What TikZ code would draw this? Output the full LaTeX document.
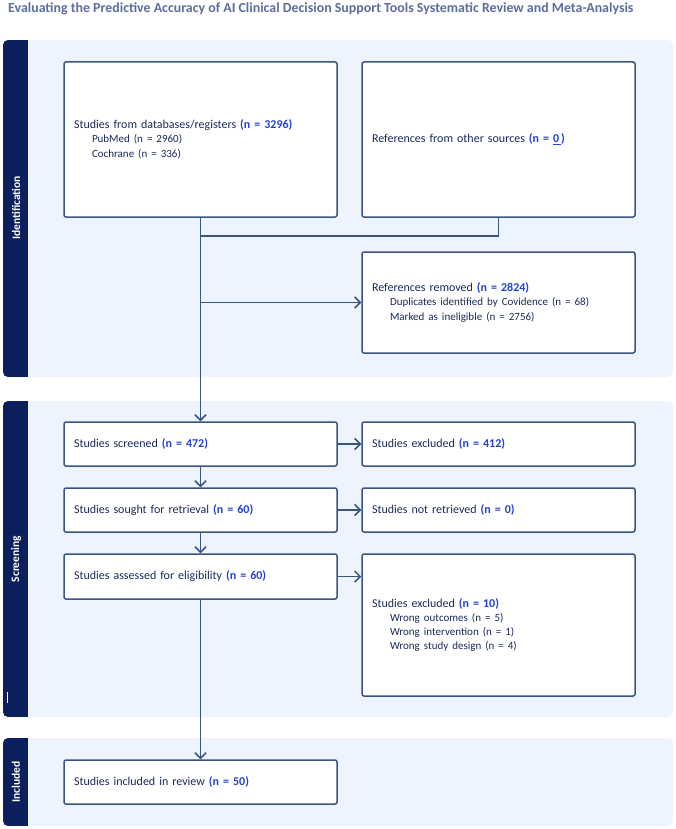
\documentclass[tikz,border=0pt]{standalone}
\usepackage{fontspec}
\setmainfont{Carlito}
\usetikzlibrary{arrows.meta,calc}
\definecolor{panelbg}{HTML}{EEF4FD}
\definecolor{barcol}{HTML}{0B1F5C}
\definecolor{boxline}{HTML}{3A5582}
\definecolor{txt}{HTML}{1C2A5A}
\definecolor{cnt}{HTML}{2342D0}
\definecolor{titlecol}{HTML}{5B6E9E}
\newcommand{\cn}[1]{\textcolor{cnt}{\textbf{#1}}}
\newcommand{\subl}{\\\hspace*{18pt}\fontsize{11}{14}\selectfont}
\tikzset{
  flowbox/.style={draw=boxline, line width=1.5pt, fill=white, rounded corners=2pt,
    minimum width=273pt, text width=253pt, inner xsep=10pt, align=left,
    text=txt, font=\fontsize{12}{14.5}\selectfont},
  flowarrow/.style={draw=boxline, line width=1.5pt, -{Straight Barb[length=5.5pt,width=11pt,line width=1.5pt]}},
  flowline/.style={draw=boxline, line width=1.5pt},
  bandlabel/.style={text=white, font=\bfseries\fontsize{11.5}{13}\selectfont, rotate=90}
}
\begin{document}
\begin{tikzpicture}[x=1pt,y=-1pt]
\useasboundingbox (0,0) rectangle (676,829);
\fill[white] (0,0) rectangle (676,829);
% title
\node[anchor=west, inner sep=0pt, text=titlecol, font=\bfseries\fontsize{13.9}{16}\selectfont] (title) at (8,9) {Evaluating the Predictive Accuracy of AI Clinical Decision Support Tools Systematic Review and Meta-Analysis};
% bands
\foreach \ya/\yb in {40/377, 401/717, 738/826}{
  \fill[panelbg, rounded corners=5pt] (3,\ya) rectangle (673,\yb);
  \begin{scope}
    \clip[rounded corners=5pt] (3,\ya) rectangle (673,\yb);
    \fill[barcol] (3,\ya) rectangle (28,\yb);
  \end{scope}
}
\node[bandlabel] (lid) at (16,208) {Identification};
\node[bandlabel] (lsc) at (16,559) {Screening};
\node[bandlabel] (lin) at (16,782) {Included};
\draw[white, line width=0.8pt] (7,692) -- (7,703);
% boxes
\node[flowbox, minimum height=155pt] (db) at (200.5,139.5) {Studies from databases/registers \cn{(n = 3296)}\subl PubMed (n = 2960)\subl Cochrane (n = 336)};
\node[flowbox, minimum height=155pt] (other) at (498.5,139.5) {References from other sources \cn{(n = \underline{0\,})}};
\node[flowbox, minimum height=101pt] (removed) at (498.5,302.5) {References removed \cn{(n = 2824)}\subl Duplicates identified by Covidence (n = 68)\subl Marked as ineligible (n = 2756)};
\node[flowbox, minimum height=44pt] (screened) at (200.5,444) {Studies screened \cn{(n = 472)}};
\node[flowbox, minimum height=44pt] (excl1) at (498.5,444) {Studies excluded \cn{(n = 412)}};
\node[flowbox, minimum height=44pt] (sought) at (200.5,510) {Studies sought for retrieval \cn{(n = 60)}};
\node[flowbox, minimum height=44pt] (notret) at (498.5,510) {Studies not retrieved \cn{(n = 0)}};
\node[flowbox, minimum height=45pt] (assessed) at (200.5,576.5) {Studies assessed for eligibility \cn{(n = 60)}};
\node[flowbox, minimum height=142pt] (excl2) at (498.5,625) {Studies excluded \cn{(n = 10)}\subl Wrong outcomes (n = 5)\subl Wrong intervention (n = 1)\subl Wrong study design (n = 4)};
\node[flowbox, minimum height=44pt] (incl) at (200.5,782) {Studies included in review \cn{(n = 50)}};
% connectors
\coordinate (join) at ($(db.south)+(0,18)$);
\coordinate (branch) at (db.south |- removed.west);
\draw[flowline] (other.south) |- (join);
\draw[flowarrow] (db.south) -- (screened.north);
\draw[flowarrow] (branch) -- (removed.west);
\draw[flowarrow] (screened.east) -- (excl1.west);
\draw[flowarrow] (screened.south) -- (sought.north);
\draw[flowarrow] (sought.east) -- (notret.west);
\draw[flowarrow] (sought.south) -- (assessed.north);
\draw[flowarrow] (assessed.east) -- (excl2.west |- assessed.east);
\draw[flowarrow] (assessed.south) -- (incl.north);
\end{tikzpicture}
\end{document}
